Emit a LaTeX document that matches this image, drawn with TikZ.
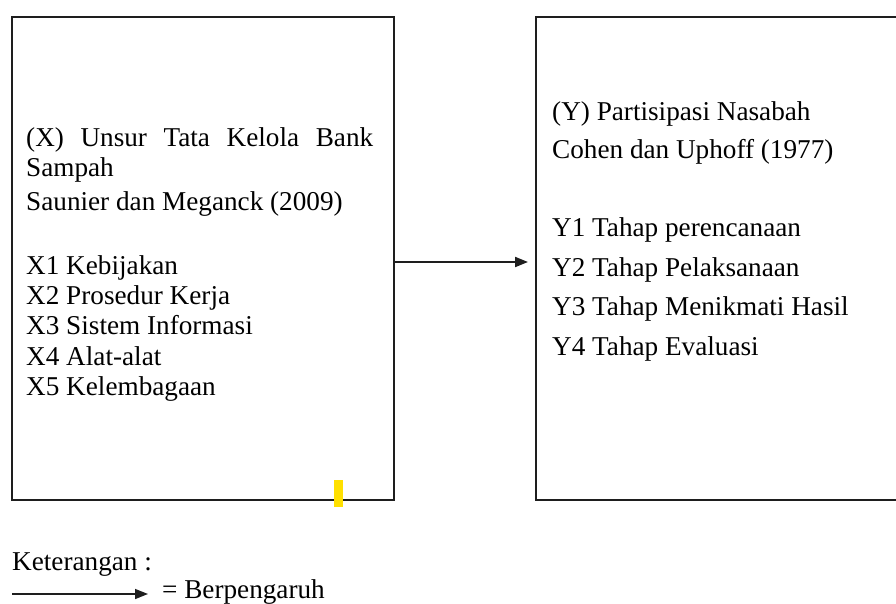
\documentclass[tikz,border=0pt]{standalone}
\usepackage{fontspec}
\setmainfont{Liberation Serif}
\usetikzlibrary{arrows.meta}
\definecolor{markyellow}{RGB}{255,224,0}
\definecolor{linegray}{RGB}{30,30,30}
\begin{document}
\begin{tikzpicture}[x=1pt,y=-1pt,
  box/.style={draw=linegray, line width=2.2pt, rectangle, inner sep=0pt, anchor=north west},
  txt/.style={anchor=base west, inner sep=0pt, font=\fontsize{27.2}{30}\selectfont},
  conn/.style={draw=linegray, line width=2pt, -{Triangle[length=13pt,width=10pt]}}]
\useasboundingbox (0,0) rectangle (896,604);
\fill[white] (0,0) rectangle (896,604);
% boxes
\node[box, minimum width=382pt, minimum height=483pt] (L) at (11,16) {};
\node[box, minimum width=420pt, minimum height=483pt] (R) at (535,16) {};
% yellow mark
\fill[markyellow] (334,480) rectangle (343,507);
% left text
\node[txt] (x0) at (26,147) {\makebox[347pt][s]{(X) Unsur Tata Kelola Bank}};
\node[txt] (x0b) at (26,177) {Sampah};
\node[txt] (x0c) at (26,211) {Saunier dan Meganck (2009)};
\node[txt] (x1) at (26,274) {X1 Kebijakan};
\node[txt] (x2) at (26,304) {X2 Prosedur Kerja};
\node[txt] (x3) at (26,334) {X3 Sistem Informasi};
\node[txt] (x4) at (26,365) {X4 Alat-alat};
\node[txt] (x5) at (26,395) {X5 Kelembagaan};
% right text
\node[txt] (y0) at (552,121) {(Y) Partisipasi Nasabah};
\node[txt] (y0b) at (552,159) {Cohen dan Uphoff (1977)};
\node[txt] (y1) at (552,236) {Y1 Tahap perencanaan};
\node[txt] (y2) at (552,276) {Y2 Tahap Pelaksanaan};
\node[txt] (y3) at (552,315) {Y3 Tahap Menikmati Hasil};
\node[txt] (y4) at (552,355) {Y4 Tahap Evaluasi};
% main arrow
\coordinate (ay) at (0,262);
\draw[conn, shorten >=7pt] (L.east |- ay) -- (R.west |- ay);
% legend
\node[txt] (ket) at (12,570) {Keterangan :};
\coordinate (la) at (12,594);
\coordinate (lb) at (148,594);
\draw[conn, line width=1.5pt] (la) -- (lb);
\node[txt] (ber) at (162,598) {= Berpengaruh};
\end{tikzpicture}
\end{document}
